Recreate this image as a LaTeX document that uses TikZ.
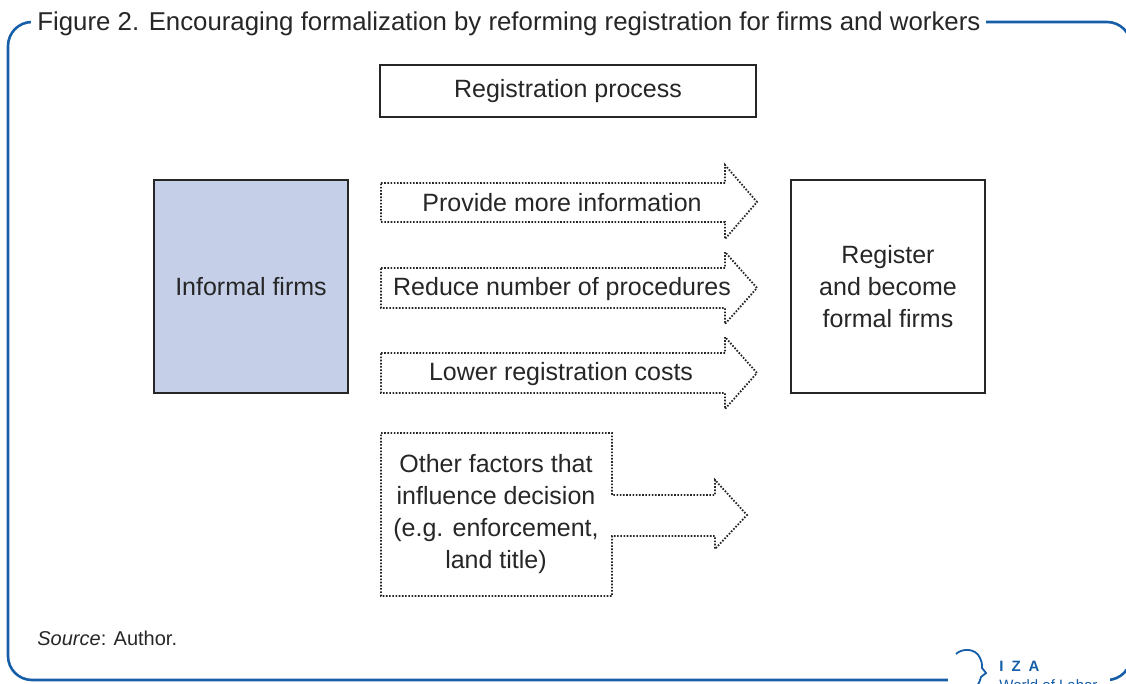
\documentclass[tikz,border=0pt]{standalone}
\usepackage{fontspec}
\setmainfont{Liberation Sans}
\usepackage{xcolor}
\definecolor{izablue}{RGB}{22,94,168}
\definecolor{firmfill}{RGB}{197,207,232}
\definecolor{inkgray}{RGB}{38,38,38}

\begin{document}
\begin{tikzpicture}[x=0.5pt, y=-0.5pt,
  every node/.style={text=inkgray, font=\fontsize{12.5}{16}\selectfont},
  solidbox/.style={draw=inkgray, line width=0.75pt, inner sep=0pt},
  dotline/.style={draw=inkgray, line width=0.9pt, dash pattern=on 0.8pt off 0.8pt}]
\useasboundingbox (0,0) rectangle (1126,684);
% Define the frame and the title
\draw[izablue, line width=1.3pt, rounded corners=12pt] (8,22) rectangle (1131,680);
\node[anchor=base west, fill=white, inner xsep=3pt, inner ysep=3pt, font=\fontsize{12.9}{15}\selectfont] (title) at (31,31) {Figure 2. Encouraging formalization by reforming registration for firms and workers};
% Define the nodes
\node[solidbox, minimum width=188pt, minimum height=26pt] at (568,91) (process) {Registration process};
\node[solidbox, fill=firmfill, minimum width=97pt, minimum height=106.5pt] at (251,286.5) (informal) {Informal firms};
\node[solidbox, align=center, minimum width=97pt, minimum height=106.5pt] at (888,286.5) (register) {Register\\and become\\formal firms};
\node at (562,203) (info) {Provide more information};
\node at (562,289) (proc) {Reduce number of procedures};
\node at (561,374) (cost) {Lower registration costs};
\node[align=center] at (496,514) (other) {Other factors that\\influence decision\\(e.g. enforcement,\\land title)};
% Draw the arrows
\draw[dotline] (381,183) -- (725,183) -- (725,165) -- (757,202) -- (725,239) -- (725,222) -- (381,222) -- cycle;
\draw[dotline] (381,268) -- (725,268) -- (725,252) -- (757,288) -- (725,324) -- (725,308) -- (381,308) -- cycle;
\draw[dotline] (381,353) -- (725,353) -- (725,337) -- (757,373) -- (725,409) -- (725,393) -- (381,393) -- cycle;
\draw[dotline] (381,433) -- (612,433) -- (612,495) -- (715,495) -- (715,480) -- (747,515) -- (715,549) -- (715,536) -- (612,536) -- (612,596) -- (381,596) -- cycle;
% Source and logo
\node[anchor=base west, inner sep=0pt, font=\fontsize{10}{12}\selectfont] at (37,646) (source) {\textit{Source}: Author.};
\fill[white] (948,650) rectangle (1110,690);
\draw[izablue, line width=0.9pt] (956,654) .. controls (962,648) and (976,648) .. (980,658) .. controls (982,663) .. (982,668) -- (986,673) -- (981,677) .. controls (980,681) .. (977,686);
\node[anchor=base west, inner sep=0pt, text=izablue, font=\bfseries\fontsize{7.5}{8}\selectfont] at (999,671) (izaname) {I\hspace{4pt}Z\hspace{4pt}A};
\node[anchor=north west, inner sep=0pt, text=izablue, font=\fontsize{7.5}{8}\selectfont] at (999,679) (izawol) {World of Labor};
\end{tikzpicture}
\end{document}
